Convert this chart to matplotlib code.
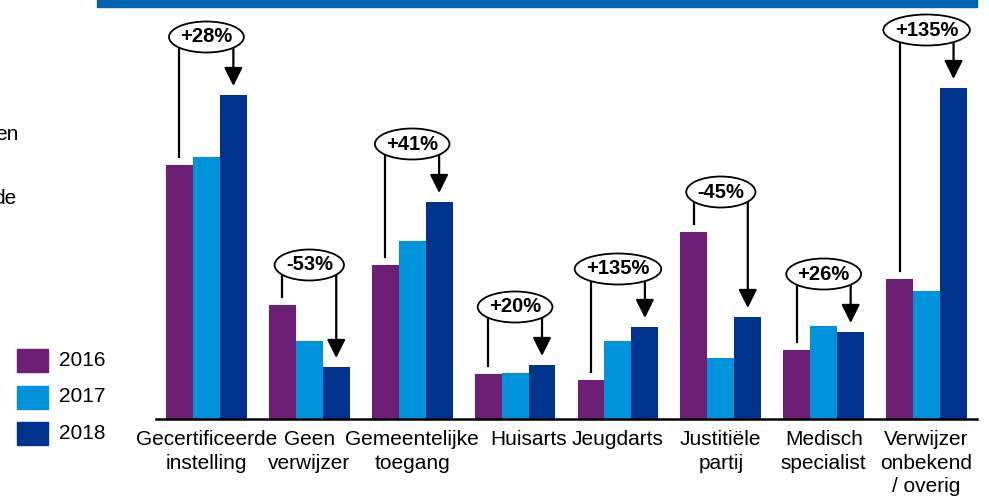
import matplotlib.pyplot as plt
from matplotlib.patches import Ellipse, Rectangle
from matplotlib.transforms import ScaledTranslation

plt.rcParams['font.family'] = ['Liberation Sans', 'DejaVu Sans']

categories = ['Gecertificeerde\ninstelling', 'Geen\nverwijzer', 'Gemeentelijke\ntoegang',
              'Huisarts', 'Jeugdarts', 'Justitiële\npartij', 'Medisch\nspecialist',
              'Verwijzer\nonbekend\n/ overig']
years = ['2016', '2017', '2018']
v2016 = [254, 114, 154, 45, 39, 187, 69, 140]
v2017 = [262, 78, 178, 46, 78, 61, 93, 128]
v2018 = [324, 52, 217, 54, 92, 102, 87, 331]
changes = ['+28%', '-53%', '+41%', '+20%', '+135%', '-45%', '+26%', '+135%']

colors = ['#6C1F75', '#0092DA', '#00338E']

W, H = 989, 499
fig = plt.figure(figsize=(W / 100, H / 100), dpi=100)
ax = fig.add_axes([156 / W, 80 / H, 821 / W, 409 / H])

x = list(range(len(categories)))
bw = 0.262
for i, (vals, c) in enumerate(zip([v2016, v2017, v2018], colors)):
    ax.bar([xi + (i - 1) * bw for xi in x], vals, width=bw, color=c, zorder=2)

ax.set_xlim(-0.49, 7.49)
ax.set_ylim(0, 409)
ax.set_yticks([])
ax.set_xticks(x)
ax.set_xticklabels(categories, fontsize=15, linespacing=1.3)
ax.tick_params(axis='x', length=0, pad=8)
for s in ['top', 'right', 'left']:
    ax.spines[s].set_visible(False)
ax.spines['bottom'].set_linewidth(1.8)

# "Huisarts" sits a little to the right of its group
lbl = ax.get_xticklabels()[3]
lbl.set_transform(lbl.get_transform() + ScaledTranslation(0.14, 0, fig.dpi_scale_trans))

# pixel size of one data unit along x
px_x = ax.transData.transform((1, 0))[0] - ax.transData.transform((0, 0))[0]
renderer = fig.canvas.get_renderer()

for xi, a, b, lab in zip(x, v2016, v2018, changes):
    up = b >= a
    yc = max(a, b) + (58 if up else 40)
    x0, x1 = xi - bw, xi + bw
    # line up from the first bar and arrow down to the last bar
    ax.plot([x0, x0], [a + 8, yc], color='black', lw=1.6, zorder=3, clip_on=False)
    ax.annotate('', xy=(x1, b + 9), xytext=(x1, yc),
                arrowprops=dict(arrowstyle='-|>,head_length=0.8,head_width=0.4',
                                color='black', lw=1.6, shrinkA=0, shrinkB=0,
                                mutation_scale=14),
                zorder=3, annotation_clip=False)
    t = ax.text(xi, yc, lab, ha='center', va='center', fontsize=14.5,
                fontweight='bold', zorder=6, clip_on=False)
    tw = t.get_window_extent(renderer).width
    e = Ellipse((xi, yc), (tw * 1.05 + 20) / px_x, 31, facecolor='white',
                edgecolor='black', lw=1.3, zorder=5, clip_on=False)
    ax.add_patch(e)

# legend
for k, (yr, c) in enumerate(zip(years, colors)):
    top = 349 + k * 36.5
    fig.patches.append(Rectangle((17 / W, 1 - (top + 23) / H), 31 / W, 23 / H,
                                 color=c, transform=fig.transFigure))
    fig.text(59 / W, 1 - (top + 11.5) / H, yr, fontsize=15, va='center', ha='left')

# cut-off text on the left and the header band
fig.text(19 / W, 1 - 134 / H, 'en', fontsize=15, va='center', ha='right')
fig.text(16 / W, 1 - 198 / H, 'de', fontsize=15, va='center', ha='right')
fig.patches.append(Rectangle((97 / W, 1 - 6.5 / H), 880 / W, 10 / H,
                             color='#0062AE', transform=fig.transFigure))

fig.savefig('out.png', dpi=100)
